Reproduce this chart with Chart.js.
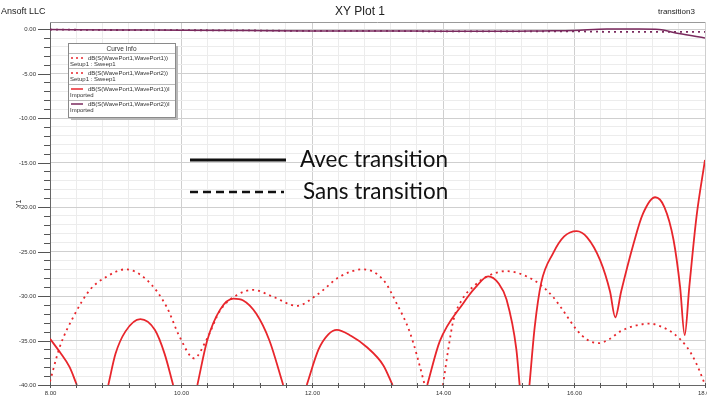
<!DOCTYPE html>
<html>
<head>
<meta charset="utf-8">
<script src="https://cdn.jsdelivr.net/npm/chart.js@4.4.1/dist/chart.umd.min.js"></script>
<style>
  html, body { margin: 0; padding: 0; background: #fff; }
  #wrap { width: 707px; height: 396px; }
</style>
</head>
<body>
<div id="wrap"><canvas id="xyPlot"></canvas></div>
<script>
// S11 with transition (imported, solid red) - null = below -40 dB
const avecFreq = [8.00, 8.15, 8.30, 8.41, 8.6, 8.89, 9.00, 9.15, 9.38, 9.60, 9.75, 9.88, 10.0, 10.25, 10.40, 10.60, 10.80, 10.95, 11.15, 11.35, 11.56, 11.7, 11.92, 12.10, 12.25, 12.38, 12.60, 12.83, 13.09, 13.23, 13.5, 13.76, 13.95, 14.31, 14.50, 14.69, 14.85, 14.97, 15.12, 15.17, 15.25, 15.32, 15.40, 15.50, 15.68, 15.85, 16.04, 16.20, 16.40, 16.55, 16.63, 16.72, 16.91, 17.05, 17.24, 17.38, 17.52, 17.62, 17.69, 17.76, 17.87, 18.00];
const avecS11 = [-34.8, -36.3, -38.0, -40, null, -40, -36.5, -34.0, -32.6, -33.8, -36.5, -40, null, -40, -35.0, -31.5, -30.3, -30.5, -32.0, -35.0, -40, null, -40, -36.0, -34.3, -33.8, -34.5, -35.7, -37.8, -40, null, -40, -35.1, -30.8, -29.0, -27.8, -28.6, -30.4, -36.0, -40, null, -40, -33.5, -28.5, -25.2, -23.3, -22.7, -23.4, -26.0, -29.5, -32.4, -29.5, -24.1, -20.8, -18.9, -20.0, -23.7, -29.0, -34.4, -29.0, -21.1, -14.7];

// S11 without transition (Setup1 : Sweep1, dotted red)
const sansFreq = [8.00, 8.15, 8.36, 8.61, 8.87, 9.15, 9.48, 9.78, 9.98, 10.20, 10.39, 10.60, 10.85, 11.10, 11.41, 11.77, 12.07, 12.43, 12.78, 13.09, 13.29, 13.50, 13.70, 13.72, 13.85, 14.00, 14.08, 14.16, 14.30, 14.50, 14.67, 14.97, 15.28, 15.50, 15.68, 15.85, 16.04, 16.20, 16.37, 16.55, 16.70, 16.95, 17.16, 17.35, 17.52, 17.72, 17.85, 17.97, 18.00];
const sansS11 = [-39.6, -35.7, -32.3, -29.3, -27.8, -27.0, -28.2, -31.2, -34.6, -37.0, -34.9, -31.6, -29.9, -29.3, -30.1, -31.1, -29.9, -27.8, -27.0, -28.2, -30.8, -34.2, -39.4, -40, null, -40, -36.0, -32.7, -30.3, -28.7, -27.8, -27.2, -27.8, -28.8, -30.1, -31.8, -33.8, -34.9, -35.3, -34.8, -34.0, -33.3, -33.1, -33.5, -34.2, -35.7, -37.3, -39.4, -40];

// S21 curves near 0 dB
const s21Freq = [8, 9, 10, 11, 12, 13, 14, 15, 15.5, 16, 16.5, 17, 17.3, 17.6, 18];
const s21Sans = [-0.05, -0.1, -0.12, -0.15, -0.2, -0.2, -0.25, -0.25, -0.25, -0.25, -0.3, -0.3, -0.3, -0.3, -0.3];
const s21Avec = [-0.05, -0.1, -0.12, -0.15, -0.2, -0.2, -0.25, -0.25, -0.2, -0.15, 0.0, 0.0, -0.05, -0.5, -1.0];

const xTicks = [];
for (let i = 0; i <= 25; i++) xTicks.push(Math.round((8 + i * 0.4) * 10) / 10);
const yTicks = [];
for (let v = -40; v <= 0; v++) yTicks.push(v);

const RED = '#e8262c';
const PURPLE = '#7a2a5e';

function pts(xs, ys) {
    return xs.map((x, i) => ({x: x, y: ys[i]}));
}

function isMajorX(v) { return Math.abs(v / 2 - Math.round(v / 2)) < 1e-6; }
function isMajorY(v) { return Math.abs(v % 5) < 1e-6; }

const decorations = {
    id: 'decorations',
    beforeDatasetsDraw(chart) {
        const {ctx, chartArea: a} = chart;
        ctx.save();
        // top border of the plot
        ctx.strokeStyle = '#9a9a9a';
        ctx.lineWidth = 1;
        ctx.beginPath();
        ctx.moveTo(a.left, a.top + 0.5);
        ctx.lineTo(a.right, a.top + 0.5);
        ctx.stroke();
        ctx.restore();
    },
    afterDraw(chart) {
        const {ctx, chartArea: a, scales} = chart;
        const xs = scales.x, ys = scales.y;
        ctx.save();

        // y tick marks and labels
        ctx.strokeStyle = '#555';
        ctx.lineWidth = 1;
        ctx.fillStyle = '#333';
        ctx.font = '6px "Liberation Sans"';
        ctx.textAlign = 'right';
        ctx.textBaseline = 'middle';
        yTicks.forEach(v => {
            const py = Math.round(ys.getPixelForValue(v)) + 0.5;
            const len = isMajorY(v) ? 12 : 6;
            ctx.beginPath();
            ctx.moveTo(a.left - len, py);
            ctx.lineTo(a.left, py);
            ctx.stroke();
            if (isMajorY(v)) ctx.fillText(v.toFixed(2), a.left - 14, py);
        });
        // x tick marks and labels
        ctx.textAlign = 'center';
        xTicks.forEach(v => {
            const px = Math.round(xs.getPixelForValue(v)) + 0.5;
            ctx.beginPath();
            ctx.moveTo(px, a.bottom - 2);
            ctx.lineTo(px, a.bottom + 3);
            ctx.stroke();
            if (isMajorX(v)) ctx.fillText(v.toFixed(2), px, a.bottom + 8);
        });

        // header texts
        ctx.fillStyle = '#222';
        ctx.textAlign = 'left';
        ctx.font = '9px "Liberation Sans"';
        ctx.fillText('Ansoft LLC', 1, 12);
        ctx.textAlign = 'center';
        ctx.font = '12px "Liberation Sans"';
        ctx.fillText('XY Plot 1', 360, 12);
        ctx.textAlign = 'left';
        ctx.font = '8px "Liberation Sans"';
        ctx.fillText('transition3', 658, 12);

        // y axis title
        ctx.save();
        ctx.translate(19, 204);
        ctx.rotate(-Math.PI / 2);
        ctx.textAlign = 'center';
        ctx.font = '7px "Liberation Sans"';
        ctx.fillText('Y1', 0, 0);
        ctx.restore();

        // Curve Info box
        const bx = 68, by = 43, bw = 107, bh = 74;
        ctx.fillStyle = '#b8b8b8';
        ctx.fillRect(bx + 3, by + 3, bw, bh);
        ctx.fillStyle = '#fff';
        ctx.fillRect(bx, by, bw, bh);
        ctx.strokeStyle = '#8a8a8a';
        ctx.strokeRect(bx + 0.5, by + 0.5, bw, bh);
        ctx.fillStyle = '#333';
        ctx.textAlign = 'center';
        ctx.font = '6.5px "Liberation Sans"';
        ctx.fillText('Curve Info', bx + bw / 2, by + 6);
        ctx.strokeStyle = '#bbb';
        [53, 68, 84, 100].forEach(y => {
            ctx.beginPath();
            ctx.moveTo(bx + 1, y + 0.5);
            ctx.lineTo(bx + bw, y + 0.5);
            ctx.stroke();
        });
        const rows = [
            {y: 58, color: RED, dash: [2, 3], name: 'dB(S(WavePort1,WavePort1))', sub: 'Setup1 : Sweep1'},
            {y: 73, color: RED, dash: [2, 3], name: 'dB(S(WavePort1,WavePort2))', sub: 'Setup1 : Sweep1'},
            {y: 89, color: RED, dash: [], name: 'dB(S(WavePort1,WavePort1))I', sub: 'Imported'},
            {y: 104, color: PURPLE, dash: [], name: 'dB(S(WavePort1,WavePort2))I', sub: 'Imported'}
        ];
        ctx.textAlign = 'left';
        ctx.font = '6px "Liberation Sans"';
        rows.forEach(r => {
            ctx.strokeStyle = r.color;
            ctx.lineWidth = 1.5;
            ctx.setLineDash(r.dash);
            ctx.beginPath();
            ctx.moveTo(bx + 3, r.y);
            ctx.lineTo(bx + 15, r.y);
            ctx.stroke();
            ctx.setLineDash([]);
            ctx.fillStyle = '#333';
            ctx.fillText(r.name, bx + 20, r.y);
            ctx.fillText(r.sub, bx + 2, r.y + 6);
        });

        // annotation: Avec / Sans transition
        ctx.strokeStyle = '#111';
        ctx.lineWidth = 3;
        ctx.beginPath();
        ctx.moveTo(190, 160);
        ctx.lineTo(286, 160);
        ctx.stroke();
        ctx.lineWidth = 2.5;
        ctx.setLineDash([8, 5]);
        ctx.beginPath();
        ctx.moveTo(190, 192);
        ctx.lineTo(284, 192);
        ctx.stroke();
        ctx.setLineDash([]);
        ctx.fillStyle = '#111';
        ctx.textBaseline = 'alphabetic';
        let size = 20;
        ctx.font = size + 'px Lato';
        size = size * 148 / ctx.measureText('Avec transition').width;
        ctx.font = size + 'px Lato';
        ctx.fillText('Avec transition', 300, 167);
        ctx.fillText('Sans transition', 303, 199);

        ctx.restore();
    }
};

const ctx = document.getElementById('xyPlot').getContext('2d');
new Chart(ctx, {
    type: 'line',
    data: {
        datasets: [
            {label: 'S11 sans', data: pts(sansFreq, sansS11), borderColor: RED, borderWidth: 1.8, borderDash: [2, 4], cubicInterpolationMode: 'monotone'},
            {label: 'S21 sans', data: pts(s21Freq, s21Sans), borderColor: PURPLE, borderWidth: 1.8, borderDash: [2, 4], cubicInterpolationMode: 'monotone'},
            {label: 'S11 avec', data: pts(avecFreq, avecS11), borderColor: RED, borderWidth: 1.8, cubicInterpolationMode: 'monotone'},
            {label: 'S21 avec', data: pts(s21Freq, s21Avec), borderColor: PURPLE, borderWidth: 1.5, cubicInterpolationMode: 'monotone'}
        ]
    },
    options: {
        responsive: true,
        maintainAspectRatio: false,
        animation: false,
        spanGaps: false,
        elements: {point: {radius: 0}},
        layout: {padding: {top: 22, right: 2, left: 0, bottom: 0}},
        scales: {
            x: {
                type: 'linear',
                min: 8,
                max: 18,
                afterBuildTicks: scale => { scale.ticks = xTicks.map(v => ({value: v})); },
                afterFit: scale => { scale.height = 11; },
                ticks: {display: false},
                grid: {
                    drawTicks: false,
                    color: c => (c.tick && isMajorX(c.tick.value)) ? '#cfcfcf' : '#ececec'
                },
                border: {color: '#666', width: 1}
            },
            y: {
                min: -40,
                max: 0.8,
                afterBuildTicks: scale => { scale.ticks = yTicks.map(v => ({value: v})); },
                afterFit: scale => { scale.width = 50; },
                ticks: {display: false},
                grid: {
                    drawTicks: false,
                    color: c => (c.tick && isMajorY(c.tick.value)) ? '#cfcfcf' : '#ececec'
                },
                border: {color: '#666', width: 1}
            }
        },
        plugins: {
            legend: {display: false},
            tooltip: {enabled: false}
        }
    },
    plugins: [decorations]
});
</script>
</body>
</html>
